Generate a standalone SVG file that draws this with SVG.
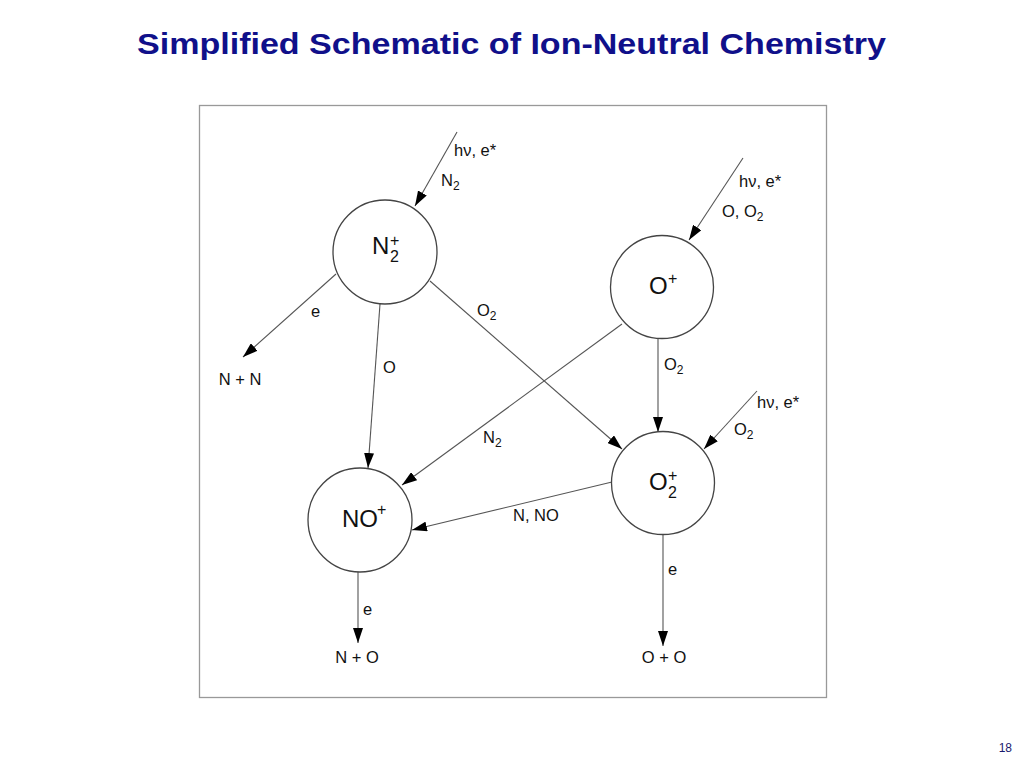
<svg xmlns="http://www.w3.org/2000/svg" width="1024" height="768" viewBox="0 0 1024 768">
<defs>
<style>
.title{font-family:"Liberation Sans",Arial,sans-serif;font-weight:bold;font-size:30px;fill:#10108a}
.pg{font-family:"Liberation Sans",Arial,sans-serif;font-size:12px;fill:#1a1a6e}
.lbl{font-family:"Liberation Sans",Arial,sans-serif;font-size:16.5px;fill:#111}
.sub{font-size:12px}
.ion{font-family:"Liberation Sans",Arial,sans-serif;font-size:24px;fill:#111}
.ionsm{font-family:"Liberation Sans",Arial,sans-serif;font-size:16px;fill:#111}
.node{fill:#fff;stroke:#444;stroke-width:1.3}
.edge{stroke:#555;stroke-width:1.1;fill:none;marker-end:url(#arr)}
</style>
<marker id="arr" markerUnits="userSpaceOnUse" markerWidth="15" markerHeight="10" refX="15" refY="5" orient="auto">
<path d="M0,0 L15,5 L0,10 z" fill="#000"/>
</marker>
</defs>
<rect width="1024" height="768" fill="#fff"/>
<text class="title" x="137" y="54" textLength="749" lengthAdjust="spacingAndGlyphs">Simplified Schematic of Ion-Neutral Chemistry</text>
<rect x="199.5" y="105.5" width="627" height="592" fill="none" stroke="#999" stroke-width="1.3"/>

<g id="connectors">
<line class="edge" x1="457" y1="132" x2="415" y2="206"/>
<line class="edge" x1="336" y1="274" x2="243" y2="357"/>
<line class="edge" x1="380" y1="304" x2="368" y2="468"/>
<line class="edge" x1="430" y1="281" x2="622" y2="449"/>
<line class="edge" x1="743" y1="158" x2="689" y2="240"/>
<line class="edge" x1="622" y1="324" x2="402" y2="485"/>
<line class="edge" x1="658" y1="338" x2="658" y2="432"/>
<line class="edge" x1="757" y1="391" x2="704" y2="449"/>
<line class="edge" x1="612" y1="482" x2="412" y2="530"/>
<line class="edge" x1="358" y1="572" x2="358" y2="643"/>
<line class="edge" x1="663" y1="535" x2="663" y2="646"/>
</g>

<g id="labels">
<text class="lbl" x="454" y="156">hν, e*</text>
<text class="lbl" x="441" y="186">N<tspan class="sub" dy="4">2</tspan></text>
<text class="lbl" x="311" y="317">e</text>
<text class="lbl" x="240" y="385" text-anchor="middle">N + N</text>
<text class="lbl" x="383" y="373">O</text>
<text class="lbl" x="477" y="316">O<tspan class="sub" dy="4">2</tspan></text>
<text class="lbl" x="739" y="187">hν, e*</text>
<text class="lbl" x="722" y="217">O, O<tspan class="sub" dy="4">2</tspan></text>
<text class="lbl" x="664" y="370">O<tspan class="sub" dy="4">2</tspan></text>
<text class="lbl" x="757" y="408">hν, e*</text>
<text class="lbl" x="734" y="435">O<tspan class="sub" dy="4">2</tspan></text>
<text class="lbl" x="483" y="443">N<tspan class="sub" dy="4">2</tspan></text>
<text class="lbl" x="513" y="521">N, NO</text>
<text class="lbl" x="363" y="615">e</text>
<text class="lbl" x="357" y="663" text-anchor="middle">N + O</text>
<text class="lbl" x="668" y="575">e</text>
<text class="lbl" x="664" y="663" text-anchor="middle">O + O</text>
</g>

<g id="node-N2plus">
<circle class="node" cx="385" cy="252" r="52"/>
<text class="ion" x="372" y="254">N</text>
<text class="ionsm" x="390" y="262">2</text>
<text class="ionsm" x="390" y="246">+</text>
</g>
<g id="node-Oplus">
<circle class="node" cx="662" cy="287" r="51.5"/>
<text class="ion" x="649" y="294">O</text>
<text class="ionsm" x="668" y="284">+</text>
</g>
<g id="node-O2plus">
<circle class="node" cx="663" cy="483" r="51.5"/>
<text class="ion" x="649" y="490">O</text>
<text class="ionsm" x="668" y="498">2</text>
<text class="ionsm" x="668" y="481">+</text>
</g>
<g id="node-NOplus">
<circle class="node" cx="360" cy="520" r="52"/>
<text class="ion" x="342" y="527">NO</text>
<text class="ionsm" x="377" y="515">+</text>
</g>

<text class="pg" x="1012" y="752" text-anchor="end">18</text>
</svg>
